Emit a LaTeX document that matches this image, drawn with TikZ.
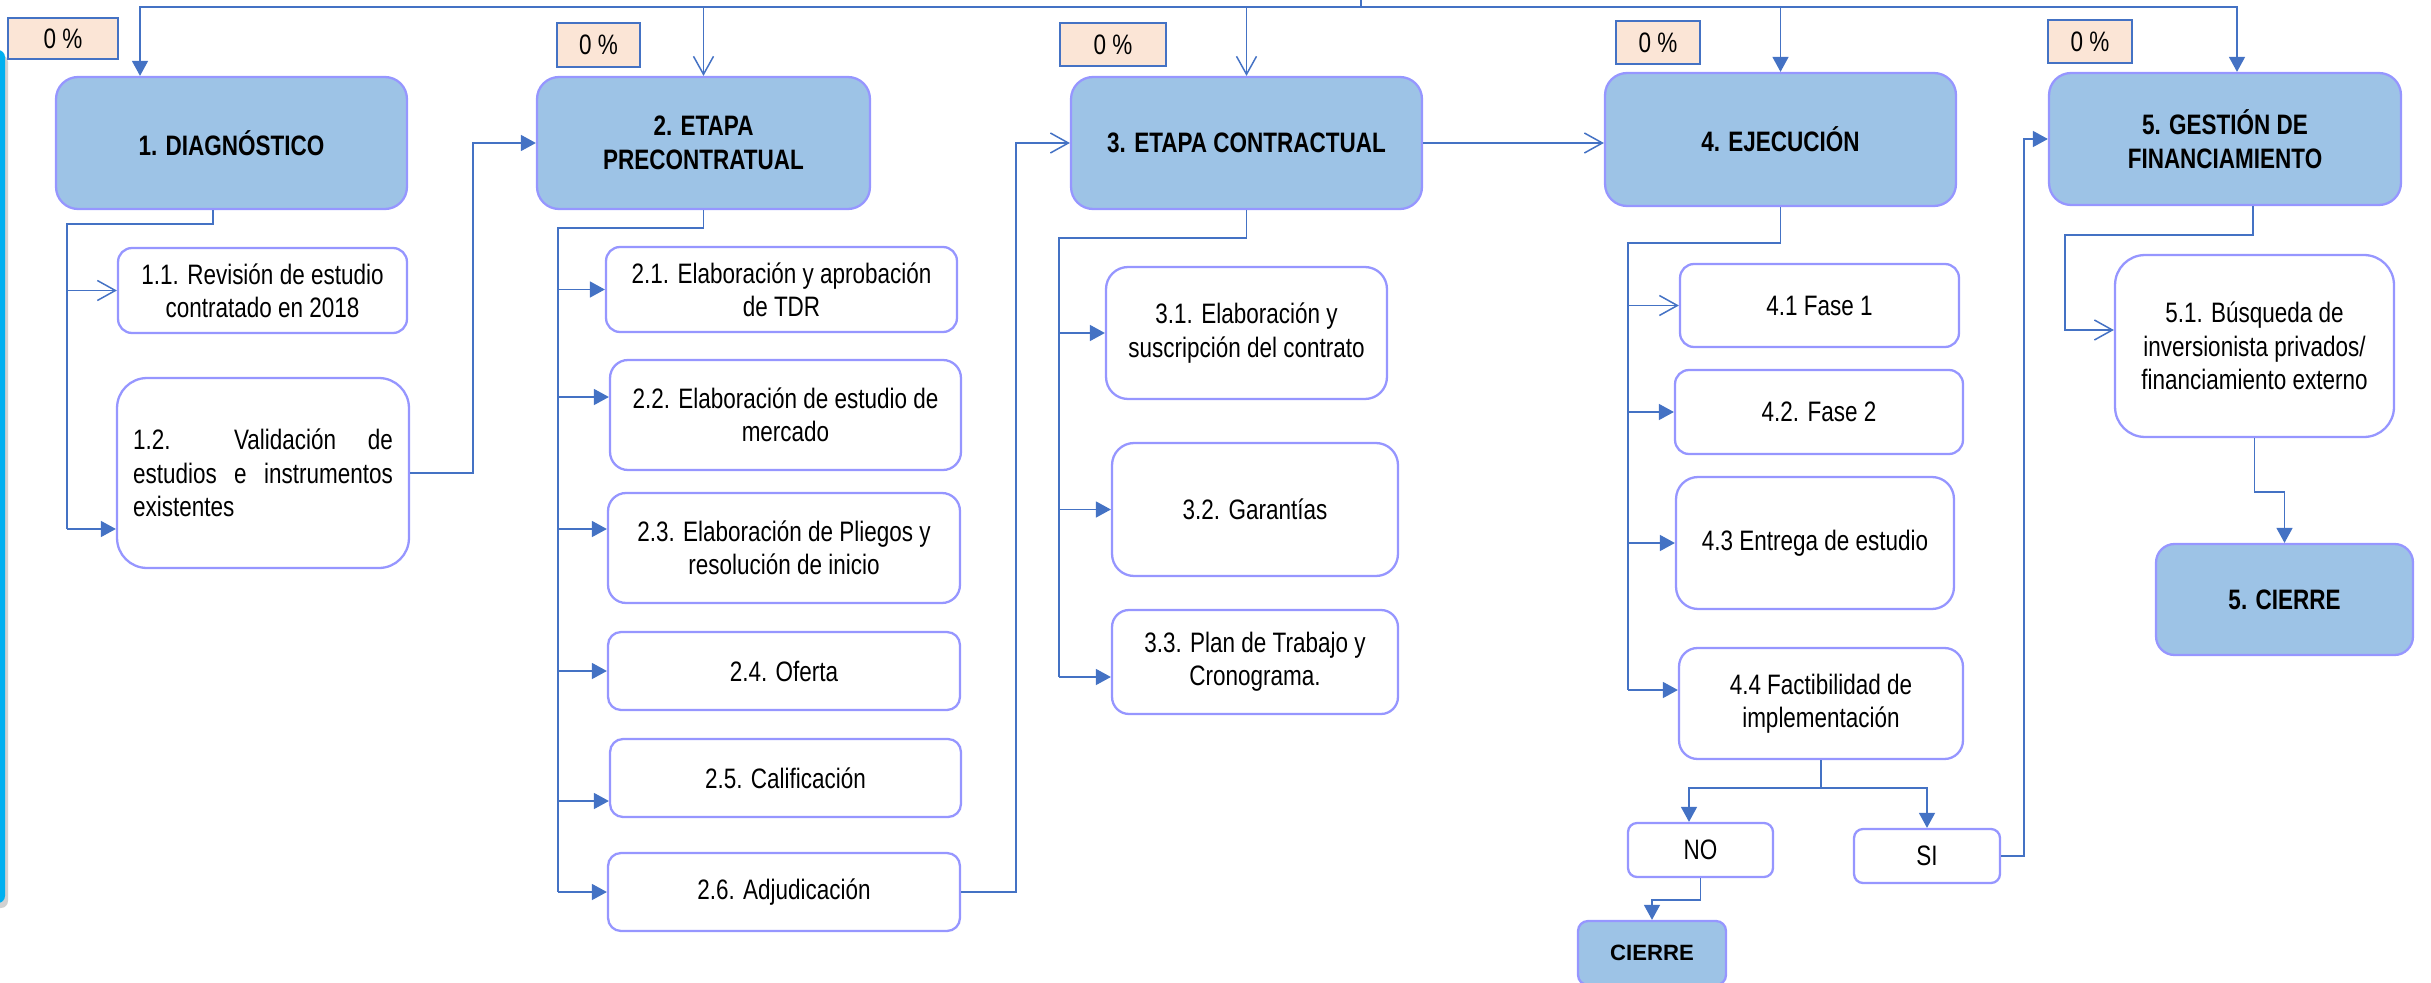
\documentclass[tikz,border=0pt]{standalone}
\usepackage{fontspec}
\newfontfamily\narrow[FakeStretch=0.8]{Liberation Sans}
\newfontfamily\ancha{Liberation Sans}
\usetikzlibrary{arrows.meta}
\definecolor{celeste}{RGB}{157,195,230}
\definecolor{lila}{RGB}{150,150,255}
\definecolor{azul}{RGB}{68,114,196}
\definecolor{durazno}{RGB}{251,229,214}
\definecolor{barra}{RGB}{0,176,240}
\newcommand\letra{\narrow\fontsize{16pt}{19pt}\selectfont}

\begin{document}
\begin{tikzpicture}[x=0.02cm, y=-0.02cm, font=\letra,
        fa/.tip={Triangle[length=0.3cm, width=0.32cm]},
        oa/.tip={Straight Barb[length=0.36cm, width=0.4cm]},
        con/.style={azul, line width=0.85pt},
        head/.style={draw=lila, line width=1.3pt, fill=celeste, rounded corners=0.44cm, align=center, font=\letra\bfseries},
        sub/.style={draw=lila, line width=1.3pt, fill=white, rounded corners=#1, align=center},
        sub/.default=0.28cm,
        pct/.style={draw=azul, line width=1.4pt, fill=durazno, inner sep=0pt},
        dim/.style 2 args={minimum width=#1, minimum height=#2}]
        \useasboundingbox (0,0) rectangle (2431,983);
        \fill[black!18, rounded corners=4pt] (-20,55) rectangle (8,908);
        \fill[barra, rounded corners=4pt] (-20,50) rectangle (5,903);

        % porcentajes
        \node[pct, dim={2.2cm}{0.82cm}] (p1) at (63,38.5) {0 \%};
        \node[pct, dim={1.66cm}{0.88cm}] (p2) at (598.5,45) {0 \%};
        \node[pct, dim={2.12cm}{0.86cm}] (p3) at (1113,44.5) {0 \%};
        \node[pct, dim={1.68cm}{0.86cm}] (p4) at (1658,42.5) {0 \%};
        \node[pct, dim={1.68cm}{0.86cm}] (p5) at (2090,41.5) {0 \%};

        % etapas
        \node[head, dim={7.02cm}{2.64cm}] (diag) at (231.5,143) {1. DIAGNÓSTICO};
        \node[head, dim={6.66cm}{2.64cm}] (et2) at (703.5,143) {2. ETAPA\\PRECONTRATUAL};
        \node[head, dim={7.02cm}{2.64cm}] (et3) at (1246.5,143) {3. ETAPA CONTRACTUAL};
        \node[head, dim={7.02cm}{2.66cm}] (et4) at (1780.5,139.5) {4. EJECUCIÓN};
        \node[head, dim={7.04cm}{2.64cm}] (et5) at (2225,139) {5. GESTIÓN DE\\FINANCIAMIENTO};

        \node[sub, dim={5.78cm}{1.7cm}] (s11) at (262.5,290.5) {1.1. Revisión de estudio\\contratado en 2018};
        \node[sub=0.6cm, dim={5.84cm}{3.8cm}, align=left, text width=5.2cm] (s12) at (263,473)
            {1.2.\hspace{0pt plus 2fill}Validación\hfill de\\estudios\hfill e\hfill instrumentos\\existentes};

        \node[sub, dim={7.02cm}{1.7cm}] (s21) at (781.5,289.5) {2.1. Elaboración y aprobación\\de TDR};
        \node[sub=0.36cm, dim={7.02cm}{2.2cm}] (s22) at (785.5,415) {2.2. Elaboración de estudio de\\mercado};
        \node[sub=0.36cm, dim={7.04cm}{2.2cm}] (s23) at (784,548) {2.3. Elaboración de Pliegos y\\resolución de inicio};
        \node[sub=0.26cm, dim={7.04cm}{1.56cm}] (s24) at (784,671) {2.4. Oferta};
        \node[sub=0.26cm, dim={7.02cm}{1.56cm}] (s25) at (785.5,778) {2.5. Calificación};
        \node[sub=0.26cm, dim={7.04cm}{1.56cm}] (s26) at (784,892) {2.6. Adjudicación};

        \node[sub=0.44cm, dim={5.62cm}{2.64cm}] (s31) at (1246.5,333) {3.1. Elaboración y\\suscripción del contrato};
        \node[sub=0.44cm, dim={5.72cm}{2.66cm}] (s32) at (1255,509.5) {3.2. Garantías};
        \node[sub=0.34cm, dim={5.72cm}{2.08cm}] (s33) at (1255,662) {3.3. Plan de Trabajo y\\Cronograma.};

        \node[sub, dim={5.58cm}{1.66cm}] (s41) at (1819.5,305.5) {4.1 Fase 1};
        \node[sub, dim={5.76cm}{1.68cm}] (s42) at (1819,412) {4.2. Fase 2};
        \node[sub=0.44cm, dim={5.56cm}{2.64cm}] (s43) at (1815,543) {4.3 Entrega de estudio};
        \node[sub=0.37cm, dim={5.68cm}{2.22cm}] (s44) at (1821,703.5) {4.4 Factibilidad de\\implementación};
        \node[sub=0.18cm, dim={2.9cm}{1.08cm}] (no) at (1700.5,850) {NO};
        \node[sub=0.18cm, dim={2.92cm}{1.08cm}] (si) at (1927,856) {SI};
        \node[head, rounded corners=0.2cm, dim={2.96cm}{1.28cm}, font=\ancha\bfseries\fontsize{12.6pt}{15pt}\selectfont] (cierre) at (1652,953) {CIERRE};

        \node[sub=0.6cm, dim={5.58cm}{3.64cm}] (s51) at (2254.5,346) {5.1. Búsqueda de\\inversionista privados/\\financiamiento externo};
        \node[head, rounded corners=0.37cm, dim={5.14cm}{2.22cm}] (c5) at (2284.5,599.5) {5. CIERRE};

        % barra superior
        \coordinate (src) at (1361,-10);
        \coordinate (bus) at (1361,7);
        \draw[con] (src) -- (bus);
        \draw[con, -fa] (bus) -| ([xshift=-1.83cm]diag.north);
        \draw[con, -oa] (bus) -| (et2.north);
        \draw[con, -oa] (bus) -| (et3.north);
        \draw[con, -fa] (bus) -| (et4.north);
        \draw[con, -fa] (bus) -| ([xshift=.24cm]et5.north);

        \coordinate (t1) at (67,224);
        \draw[con] ([xshift=-.37cm]diag.south) |- (t1) -- ([yshift=-1.12cm]s12.west -| t1);
        \draw[con, -oa] (s11.west -| t1) -- (s11.west);
        \draw[con, -fa] ([yshift=-1.12cm]s12.west -| t1) -- ([yshift=-1.12cm]s12.west);
        \coordinate (k1) at (473,300);
        \draw[con, -fa] (s12.east) -| (k1) |- (et2.west);

        \coordinate (t2) at (558,228);
        \draw[con] (et2.south) |- (t2) -- (t2 |- s26.west);
        \draw[con, -fa] (t2 |- s21.west) -- (s21.west);
        \draw[con, -fa] ([yshift=.36cm]s22.west -| t2) -- ([yshift=.36cm]s22.west);
        \draw[con, -fa] ([yshift=.38cm]s23.west -| t2) -- ([yshift=.38cm]s23.west);
        \draw[con, -fa] (t2 |- s24.west) -- (s24.west);
        \draw[con, -fa] ([yshift=-.46cm]s25.west -| t2) -- ([yshift=-.46cm]s25.west);
        \draw[con, -fa] (t2 |- s26.west) -- (s26.west);
        \coordinate (k2) at (1016,500);
        \draw[con, -oa] (s26.east) -| (k2) |- (et3.west);

        \coordinate (t3) at (1059,238);
        \draw[con] (et3.south) |- (t3) -- ([yshift=-.3cm]s33.west -| t3);
        \draw[con, -fa] (t3 |- s31.west) -- (s31.west);
        \draw[con, -fa] (t3 |- s32.west) -- (s32.west);
        \draw[con, -fa] ([yshift=-.3cm]s33.west -| t3) -- ([yshift=-.3cm]s33.west);
        \draw[con, -oa] (et3.east) -- (et3.east -| et4.west);

        \coordinate (t4) at (1628,243);
        \draw[con] (et4.south) |- (t4) -- ([yshift=.27cm]s44.west -| t4);
        \draw[con, -oa] (t4 |- s41.west) -- (s41.west);
        \draw[con, -fa] (t4 |- s42.west) -- (s42.west);
        \draw[con, -fa] (t4 |- s43.west) -- (s43.west);
        \draw[con, -fa] ([yshift=.27cm]s44.west -| t4) -- ([yshift=.27cm]s44.west);
        \coordinate (d4) at (1821,788);
        \draw[con, -fa] (s44.south) |- ([xshift=-.23cm]no.north |- d4) -- ([xshift=-.23cm]no.north);
        \draw[con, -fa] (s44.south) |- (si.north |- d4) -- (si.north);
        \draw[con, -fa] (no.south) -- ++(0,22) -| (cierre.north);
        \coordinate (k4) at (2024,500);
        \draw[con, -fa] (si.east) -| (k4) |- (et5.west);

        \coordinate (t5) at (2065,235);
        \draw[con, -oa] ([xshift=.56cm]et5.south) |- (t5) |- ([yshift=.32cm]s51.west);
        \draw[con, -fa] (s51.south) -- ++(0,54) -| (c5.north);
    \end{tikzpicture}
\end{document}
